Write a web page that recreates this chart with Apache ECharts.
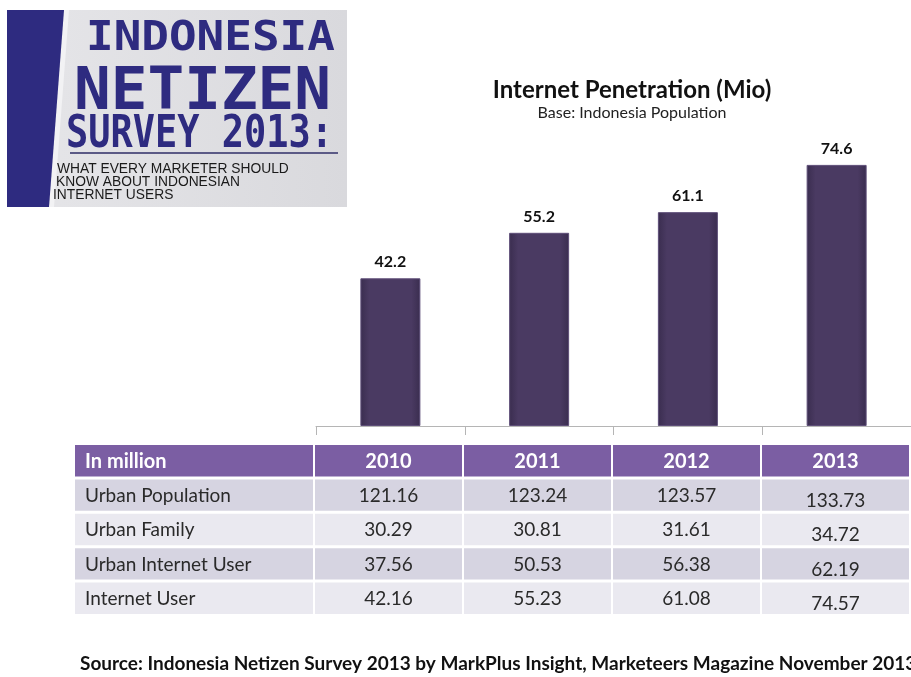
<!DOCTYPE html>
<html>
<head>
<meta charset="utf-8">
<script src="https://cdn.jsdelivr.net/npm/echarts@6/dist/echarts.min.js"></script>
<style>
  html, body { margin: 0; background: #fff; }
  #chart { width: 911px; height: 677px; }
</style>
</head>
<body>
<div id="chart"></div>
<script>
// chart data
var years = ['2010', '2011', '2012', '2013'];
var penetration = [42.2, 55.2, 61.1, 74.6];

// table data
var headerLabel = 'In million';
var rowNames = ['Urban Population', 'Urban Family', 'Urban Internet User', 'Internet User'];
var urbanPopulation = ['121.16', '123.24', '123.57', '133.73'];
var urbanFamily = ['30.29', '30.81', '31.61', '34.72'];
var urbanInternetUser = ['37.56', '50.53', '56.38', '62.19'];
var internetUser = ['42.16', '55.23', '61.08', '74.57'];
var tableRows = [urbanPopulation, urbanFamily, urbanInternetUser, internetUser];
var rowKeys = [headerLabel].concat(rowNames);

var yearCells = [];
var labelCells = [];
for (var r = 0; r < rowKeys.length; r++) {
  labelCells.push([0, r]);
  for (var c = 0; c < years.length; c++) yearCells.push([c, r]);
}

function cellRenderer(isLabel) {
  return function (params, api) {
    var col = api.value(0), row = api.value(1);
    var pt = api.coord([col, row]);
    var sz = api.size([1, 1]);
    var x0 = pt[0] - sz[0] / 2, y0 = pt[1] - sz[1] / 2;
    var text, fill;
    if (row === 0) {
      text = isLabel ? headerLabel : years[col];
      fill = '#7b5ea3';
    } else {
      text = isLabel ? rowNames[row - 1] : tableRows[row - 1][col];
      fill = row % 2 === 1 ? '#d6d4e1' : '#eae9f0';
    }
    // the 2013 column sits a little lower in the original
    var dy = (!isLabel && row > 0 && col === 3) ? 5 : 0;
    return {
      type: 'group',
      children: [{
        type: 'rect',
        shape: { x: x0, y: y0, width: sz[0] - 2, height: sz[1] - 3 },
        style: { fill: fill }
      }, {
        type: 'text',
        style: {
          text: text,
          x: isLabel ? x0 + 10 : pt[0] - 1,
          y: pt[1] - 1 + dy,
          align: isLabel ? 'left' : 'center',
          verticalAlign: 'middle',
          fontFamily: 'Lato',
          fontSize: row === 0 ? 20 : 19,
          fontWeight: row === 0 ? 'bold' : 'normal',
          fill: row === 0 ? '#fff' : '#2a2a2a'
        }
      }]
    };
  };
}

var chart = echarts.init(document.getElementById('chart'));

chart.setOption({
  backgroundColor: '#fff',
  animation: false,
  title: {
    text: 'Internet Penetration (Mio)',
    subtext: 'Base: Indonesia Population',
    left: 627,
    top: 73,
    textAlign: 'center',
    itemGap: 3,
    textStyle: { fontFamily: 'Lato', fontWeight: 'bold', fontSize: 24, color: '#111' },
    subtextStyle: { fontFamily: 'Lato', fontSize: 16, color: '#222' }
  },
  grid: [
    { left: 316, width: 603, top: 76, height: 350 },
    { left: 75, width: 240, top: 445, height: 172 },
    { left: 315, width: 603, top: 445, height: 172 }
  ],
  xAxis: [{
    gridIndex: 0,
    type: 'category',
    data: years,
    axisLine: { lineStyle: { color: '#b5b5b5' } },
    axisTick: { show: true, interval: 0, length: 9, lineStyle: { color: '#b5b5b5' } },
    axisLabel: { show: false }
  }, {
    gridIndex: 1, type: 'category', data: [headerLabel], show: false
  }, {
    gridIndex: 2, type: 'category', data: years, show: false
  }],
  yAxis: [{
    gridIndex: 0, type: 'value', min: 0, max: 100, show: false
  }, {
    gridIndex: 1, type: 'category', data: rowKeys, inverse: true, show: false
  }, {
    gridIndex: 2, type: 'category', data: rowKeys, inverse: true, show: false
  }],
  series: [{
    type: 'bar',
    xAxisIndex: 0,
    yAxisIndex: 0,
    data: penetration,
    barWidth: 60,
    itemStyle: {
      color: new echarts.graphic.LinearGradient(0, 0, 1, 0, [
        { offset: 0, color: '#3a2d4f' },
        { offset: 0.15, color: '#4a3a62' },
        { offset: 0.85, color: '#4a3a62' },
        { offset: 1, color: '#3a2d4f' }
      ]),
      borderColor: '#5e4e78',
      borderWidth: 1
    },
    label: {
      show: true,
      position: 'top',
      distance: 8,
      fontFamily: 'Lato',
      fontWeight: 'bold',
      fontSize: 16,
      color: '#111'
    }
  }, {
    type: 'custom',
    xAxisIndex: 1,
    yAxisIndex: 1,
    data: labelCells,
    renderItem: cellRenderer(true)
  }, {
    type: 'custom',
    xAxisIndex: 2,
    yAxisIndex: 2,
    data: yearCells,
    renderItem: cellRenderer(false)
  }],
  graphic: [{
    type: 'group',
    children: [{
      type: 'rect',
      shape: { x: 7, y: 10, width: 340, height: 197 },
      style: {
        fill: new echarts.graphic.LinearGradient(0, 0, 1, 0, [
          { offset: 0, color: '#e6e6e9' },
          { offset: 1, color: '#d9d9dd' }
        ])
      }
    }, {
      type: 'polygon',
      shape: { points: [[64, 10], [69, 10], [54, 207], [49, 207]] },
      style: { fill: '#f2f2f4' }
    }, {
      type: 'polygon',
      shape: { points: [[7, 10], [64, 10], [49, 207], [7, 207]] },
      style: { fill: '#2e2b80' }
    }, {
      type: 'text', x: 86, y: 19, scaleX: 1.12,
      style: { text: 'INDONESIA', fontFamily: 'DejaVu Sans Mono', fontWeight: 'bold', fontSize: 41, fill: '#2e2b80', verticalAlign: 'top' }
    }, {
      type: 'text', x: 74, y: 64, scaleX: 1.07, scaleY: 1.04,
      style: { text: 'NETIZEN', fontFamily: 'DejaVu Sans Mono', fontWeight: 'bold', fontSize: 57, fill: '#2e2b80', verticalAlign: 'top' }
    }, {
      type: 'text', x: 66, y: 114, scaleX: 0.84,
      style: { text: 'SURVEY 2013:', fontFamily: 'DejaVu Sans Mono', fontWeight: 'bold', fontSize: 44, fill: '#2e2b80', verticalAlign: 'top' }
    }, {
      type: 'line',
      shape: { x1: 70, y1: 153, x2: 338, y2: 153 },
      style: { stroke: '#5b5a86', lineWidth: 2 }
    }, {
      type: 'text', x: 57, y: 161, scaleX: 0.92,
      style: { text: 'WHAT EVERY MARKETER SHOULD', fontFamily: 'Liberation Sans', fontSize: 15, fill: '#1a1a1a', verticalAlign: 'top' }
    }, {
      type: 'text', x: 56, y: 174, scaleX: 0.92,
      style: { text: 'KNOW ABOUT INDONESIAN', fontFamily: 'Liberation Sans', fontSize: 15, fill: '#1a1a1a', verticalAlign: 'top' }
    }, {
      type: 'text', x: 53, y: 187, scaleX: 0.92,
      style: { text: 'INTERNET USERS', fontFamily: 'Liberation Sans', fontSize: 15, fill: '#1a1a1a', verticalAlign: 'top' }
    }]
  }, {
    type: 'text',
    left: 80,
    top: 654,
    style: {
      text: 'Source: Indonesia Netizen Survey 2013 by MarkPlus Insight, Marketeers Magazine November 2013',
      fontFamily: 'Lato',
      fontWeight: 'bold',
      fontSize: 19,
      fill: '#111'
    }
  }]
});
</script>
</body>
</html>
